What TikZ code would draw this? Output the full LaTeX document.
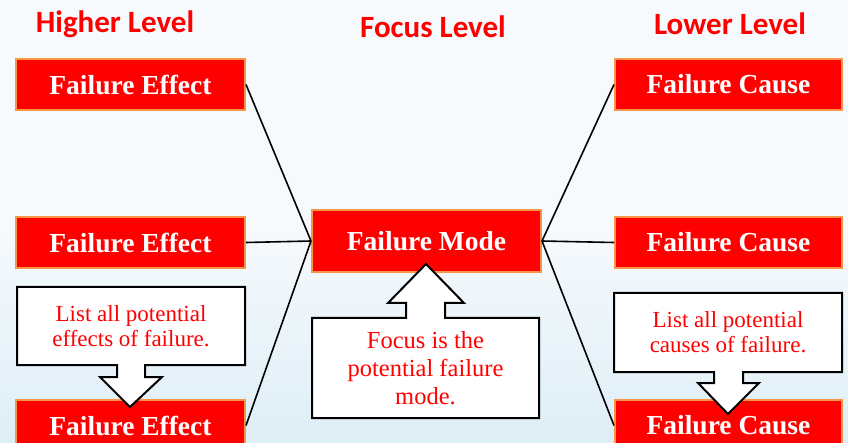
\documentclass[tikz,border=0pt]{standalone}
\usepackage{fontspec}
\setmainfont{Liberation Serif}
\newfontfamily\headfont{Carlito}
\definecolor{boxred}{RGB}{255,0,0}
\definecolor{boxedge}{RGB}{247,150,70}
\definecolor{bgtop}{RGB}{247,250,253}
\definecolor{bgbot}{RGB}{222,238,246}
\begin{document}
\begin{tikzpicture}[x=1pt,y=-1pt,line join=miter,
	redbox/.style={draw=boxedge,line width=2pt,fill=boxred,text=white,inner sep=0pt,
		font=\fontsize{27.5}{29}\selectfont\bfseries,minimum width=229pt,minimum height=51pt},
	levelhead/.style={text=boxred,font=\headfont\fontsize{31}{32}\selectfont\bfseries},
	callout/.style={draw=black,line width=2pt,fill=white},
	callnote/.style={text=boxred,align=center,inner sep=0pt,font=\fontsize{23}{24.5}\selectfont}]
	\path[use as bounding box](0,0)rectangle(848,443);
	\clip(0,0)rectangle(848,443);
	\shade[top color=bgtop,bottom color=bgbot,middle color=bgtop](0,0)rectangle(848,443);
	% level headings
	\node[levelhead](hh) at (115,24){Higher Level};
	\node[levelhead](fh) at (433,27){Focus Level};
	\node[levelhead](lh) at (730,24){Lower Level};
	% boxes
	\foreach \n/\y in{e1/84.5,e2/242.5,e3/425.5}
	\node[redbox](\n) at (130.5,\y){Failure Effect};
	\foreach \n/\y in{c1/84.5,c2/242.5,c3/425.5}
	\node[redbox,minimum width=227pt](\n) at (728.5,\y){Failure Cause};
	\node[redbox,minimum height=62pt](fm) at (426.5,241){Failure Mode};
	\foreach \n in{e1,e2,e3}
	\draw[line width=1.6pt](\n.east)--(fm.west);
	\foreach \n in{c1,c2,c3}
	\draw[line width=1.6pt](fm.east)--(\n.west);
	% callouts
	\draw[callout](17,287)--(245,287)--(245,365)--(145,365)--(145,377)--(162,377)--(130,407)
		--(100,377)--(117,377)--(117,365)--(17,365)--cycle;
	\draw[callout](312,418)--(539,418)--(539,318)--(445,318)--(445,303)--(464,303)--(426,264)
		--(388,303)--(406,303)--(406,318)--(312,318)--cycle;
	\draw[callout](614,293)--(842,293)--(842,372)--(743,372)--(743,383)--(759,383)--(728,414)
		--(698,383)--(714,383)--(714,372)--(614,372)--cycle;
	\node[callnote](n1) at (131,326){List all potential\\effects of failure.};
	\node[callnote,font=\fontsize{24.5}{28.3}\selectfont](n2) at (425.5,368){Focus is the\\potential failure\\mode.};
	\node[callnote](n3) at (728,332){List all potential\\causes of failure.};
\end{tikzpicture}
\end{document}
